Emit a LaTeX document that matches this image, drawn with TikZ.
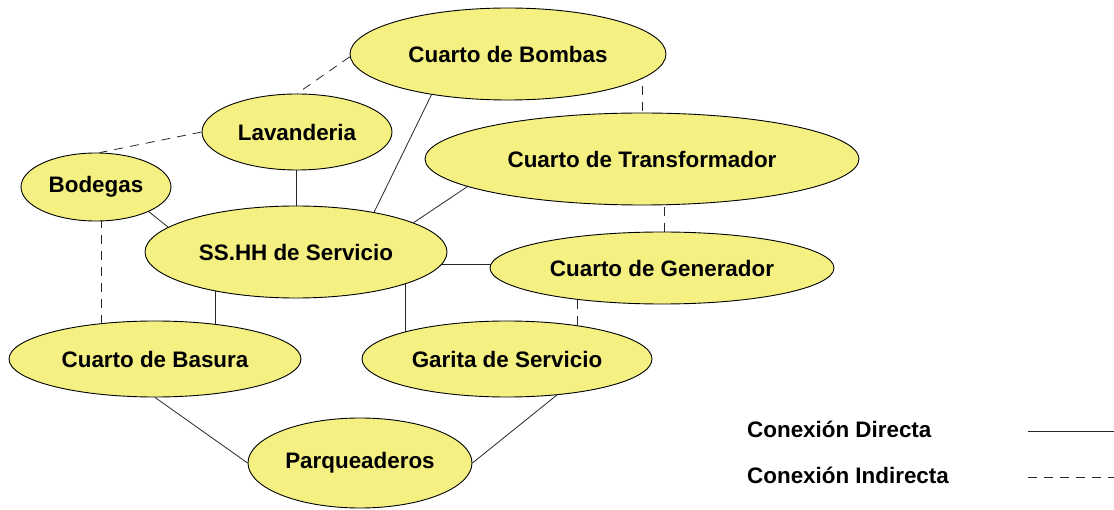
\documentclass[tikz,border=0pt]{standalone}
\usepackage{fontspec}
\newfontfamily\lblfont{Liberation Sans}
\usetikzlibrary{shapes.geometric,calc,backgrounds}
\definecolor{nodefill}{RGB}{245,240,130}
\tikzset{
  room/.style={ellipse, draw=black, line width=0.9pt, fill=nodefill, inner sep=0pt,
    font=\lblfont\bfseries\fontsize{22.4}{25}\selectfont},
  direct/.style={draw=black!85, line width=0.8pt},
  indirect/.style={draw=black!85, line width=0.8pt, dash pattern=on 9pt off 7pt},
  legtext/.style={anchor=west, inner sep=0pt, font=\lblfont\bfseries\fontsize{22.4}{25}\selectfont}
}
\begin{document}
\begin{tikzpicture}[x=1pt,y=-1pt]
\useasboundingbox (0,0) rectangle (1114,510);
\node[room, minimum width=316pt, minimum height=92pt] (bombas) at (508,54) {Cuarto de Bombas};
\node[room, minimum width=190pt, minimum height=76pt] (lav) at (297,132) {Lavanderia};
\node[room, minimum width=150pt, minimum height=68pt] (bod) at (96,187) {Bodegas};
\node[room, minimum width=434pt, minimum height=92pt] (trans) at (642,159) {Cuarto de Transformador};
\node[room, minimum width=302pt, minimum height=92pt] (ss) at (296,252) {SS.HH de Servicio};
\node[room, minimum width=344pt, minimum height=72pt] (gen) at (662,268) {Cuarto de Generador};
\node[room, minimum width=292pt, minimum height=76pt] (bas) at (155,359) {Cuarto de Basura};
\node[room, minimum width=290pt, minimum height=76pt] (gar) at (507,359) {Garita de Servicio};
\node[room, minimum width=224pt, minimum height=90pt] (parq) at (360,463) {Parqueaderos};

\node[legtext] (ld) at (747,429) {Conexión Directa};
\node[legtext] (li) at (747,475) {Conexión Indirecta};
\coordinate (ld1) at (1028,431);
\coordinate (ld2) at (1114,431);
\coordinate (li1) at (1028,477);
\coordinate (li2) at (1114,477);

\begin{scope}[on background layer]
% direct connections
\draw[direct] ($(lav.center)+(-1,0)$) -- (ss.center);
\draw[direct] (bod.335) -- (ss.169);
\draw[direct] (ss.27) -- (bombas.208);
\draw[direct] (ss.14) -- (trans.189);
\draw[direct] ($(ss.center)+(0,12)$) -- ($(gen.center)+(0,-4)$);
\draw[direct] ($(ss.center)+(-81,0)$) -- ($(bas.center)+(60,0)$);
\draw[direct] ($(ss.center)+(109,0)$) -- ($(gar.center)+(-102,0)$);
\draw[direct] (bas.south) -- (parq.west);
\draw[direct] (gar.324) -- (parq.east);
% indirect connections
\draw[indirect] (bombas.181) -- (lav.north);
\draw[indirect] (lav.west) -- (bod.84);
\draw[indirect] ($(bod.center)+(5,0)$) -- ($(bas.center)+(-54,0)$);
\draw[indirect] ($(bombas.center)+(134,0)$) -- (trans.center);
\draw[indirect] ($(trans.center)+(22,0)$) -- ($(gen.center)+(2,0)$);
\draw[indirect] ($(gen.center)+(-85,0)$) -- ($(gar.center)+(70,0)$);
\end{scope}
\draw[direct] (ld1) -- (ld2);
\draw[indirect] (li1) -- (li2);
\end{tikzpicture}
\end{document}
